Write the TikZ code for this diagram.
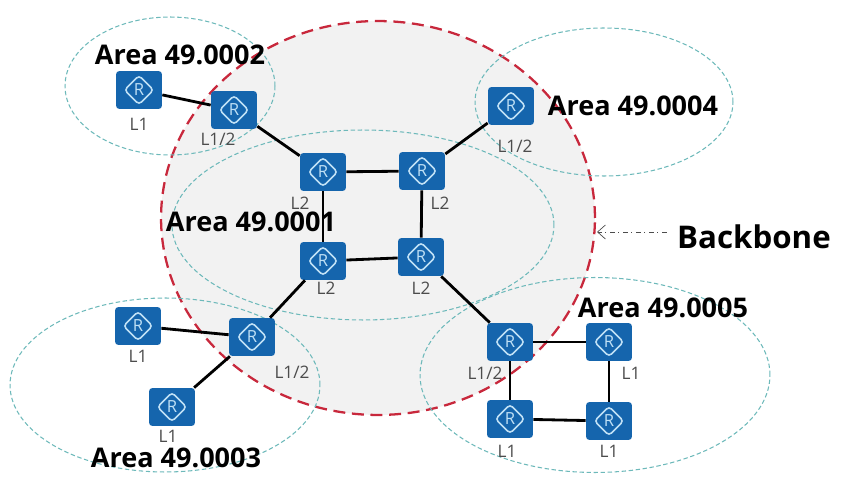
\documentclass[tikz,border=0pt]{standalone}
\usepackage{fontspec}
\setmainfont{Open Sans}
\usepackage{xcolor}
\usetikzlibrary{arrows.meta,positioning,shapes.geometric}
\definecolor{routerblue}{HTML}{1565AD}
\definecolor{routerline}{HTML}{BFE0F5}
\definecolor{areateal}{HTML}{6DB9BA}
\definecolor{backbonered}{HTML}{C8283C}

\tikzset{
    routerbox/.style={draw=none, fill=routerblue, rounded corners=2pt, minimum width=0.92cm, minimum height=0.76cm, inner sep=0pt, text=routerline, font=\fontsize{9.5}{9.5}\selectfont,
        path picture={\draw[routerline, line width=0.9pt] (path picture bounding box.center) +(-0.29cm,0) -- +(0,0.29cm) -- +(0.29cm,0) -- +(0,-0.29cm) -- cycle;}},
    arealoop/.style={draw=areateal, dash pattern=on 2.5pt off 1.5pt, line width=0.6pt, ellipse, inner sep=0pt},
    levellabel/.style={text=black!70, font=\fontsize{9.8}{11}\selectfont, inner sep=0pt},
    areatitle/.style={text=black, font=\fontsize{15.4}{18}\selectfont\bfseries, inner sep=0pt},
    link/.style={line width=1.6pt, black}
}

\begin{document}
\begin{tikzpicture}[x=0.02cm, y=-0.02cm]
    \useasboundingbox (0,0) rectangle (846,493);

    \node[arealoop, draw=backbonered, dash pattern=on 6.8pt off 3.8pt, line width=1.3pt, fill=black!5, minimum width=8.68cm, minimum height=7.88cm] (backbone_area) at (378,218) {};
    \node[arealoop, minimum width=7.64cm, minimum height=3.8cm] (area1) at (363,225) {};
    \node[arealoop, minimum width=4.2cm, minimum height=2.76cm] (area2) at (170,86) {};
    \node[arealoop, minimum width=6.2cm, minimum height=3.48cm] (area3) at (165,385) {};
    \node[arealoop, minimum width=5.16cm, minimum height=2.96cm] (area4) at (604,102) {};
    \node[arealoop, minimum width=7cm, minimum height=3.9cm] (area5) at (595,375) {};

    \node[routerbox] (r2_a) at (139,90) {R};
    \node[routerbox] (r2_b) at (234,110) {R};
    \node[routerbox] (r1_a) at (323,172) {R};
    \node[routerbox] (r1_b) at (422,171) {R};
    \node[routerbox] (r1_c) at (323,261) {R};
    \node[routerbox] (r1_d) at (421,257) {R};
    \node[routerbox] (r4_a) at (511,106) {R};
    \node[routerbox] (r3_a) at (138,326) {R};
    \node[routerbox] (r3_b) at (252,337) {R};
    \node[routerbox] (r3_c) at (172,407) {R};
    \node[routerbox] (r5_a) at (510,342) {R};
    \node[routerbox] (r5_b) at (609,342) {R};
    \node[routerbox] (r5_c) at (510,419) {R};
    \node[routerbox] (r5_d) at (609,421) {R};

    \draw[link] (r2_a) -- (r2_b);
    \draw[link] (r2_b) -- (r1_a);
    \draw[link] (r1_a) -- (r1_b);
    \draw[link] (r1_b) -- (r4_a);
    \draw[link] (r1_a) -- (r1_c);
    \draw[link] (r1_b) -- (r1_d);
    \draw[link] (r1_c) -- (r1_d);
    \draw[link] (r1_c) -- (r3_b);
    \draw[link] (r1_d) -- (r5_a);
    \draw[link] (r3_a) -- (r3_b);
    \draw[link] (r3_c) -- (r3_b);
    \draw[link] (r5_a) -- (r5_b);
    \draw[link] (r5_a) -- (r5_c);
    \draw[link] (r5_b) -- (r5_d);
    \draw[link] (r5_c) -- (r5_d);

    \node[levellabel] (lab_r2_a) at (139,124) {L1};
    \node[levellabel] (lab_r2_b) at (218,139) {L1/2};
    \node[levellabel] (lab_r1_a) at (300,203) {L2};
    \node[levellabel] (lab_r1_b) at (440,203) {L2};
    \node[levellabel] (lab_r1_c) at (326,288) {L2};
    \node[levellabel] (lab_r1_d) at (421,288) {L2};
    \node[levellabel] (lab_r4_a) at (515,146) {L1/2};
    \node[levellabel] (lab_r3_a) at (138,356) {L1};
    \node[levellabel] (lab_r3_b) at (292,372) {L1/2};
    \node[levellabel] (lab_r3_c) at (168,436) {L1};
    \node[levellabel] (lab_r5_a) at (485,373) {L1/2};
    \node[levellabel] (lab_r5_b) at (631,373) {L1};
    \node[levellabel] (lab_r5_c) at (507,451) {L1};
    \node[levellabel] (lab_r5_d) at (609,451) {L1};

    \node[areatitle] (title2) at (180,55) {Area 49.0002};
    \node[areatitle] (title1) at (251,222) {Area 49.0001};
    \node[areatitle] (title4) at (633,106) {Area 49.0004};
    \node[areatitle] (title3) at (176,458) {Area 49.0003};
    \node[areatitle] (title5) at (663,308) {Area 49.0005};
    \node[areatitle, font=\fontsize{17.8}{20}\selectfont\bfseries] (backbone_text) at (754,237) {Backbone};

    \coordinate (backbone_tip) at (597,232);
    \draw[-{Straight Barb[length=4.5pt,width=8pt]}, black!70, dashdotted, shorten <=0.2cm] (backbone_text.west |- backbone_tip) -- (backbone_tip);
\end{tikzpicture}
\end{document}
